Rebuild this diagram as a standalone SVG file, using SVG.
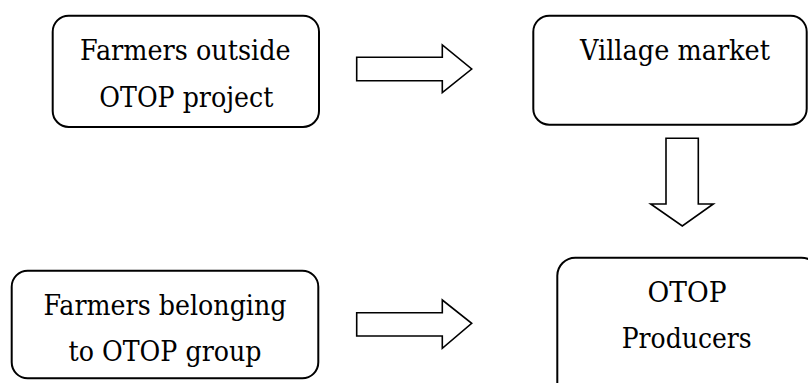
<svg xmlns="http://www.w3.org/2000/svg" width="808" height="383" viewBox="0 0 808 383">
<style>
.box{fill:#fff;stroke:#000;stroke-width:2}
.arr{fill:#fff;stroke:#000;stroke-width:1.6;stroke-linejoin:miter}
</style>
<rect width="808" height="383" fill="#fff"/>
<g font-family="DejaVu Serif, Liberation Serif, serif" font-size="27" text-anchor="middle" fill="#000">
<g id="node-farmers-outside">
<rect class="box" x="52.7" y="15.7" width="266.3" height="111.3" rx="16"/>
<text x="185.3" y="59.5" textLength="210.7" lengthAdjust="spacingAndGlyphs">Farmers outside</text>
<text x="186.3" y="106.7" textLength="174" lengthAdjust="spacingAndGlyphs">OTOP project</text>
</g>
<g id="node-village-market">
<rect class="box" x="533.3" y="15.7" width="273.4" height="109" rx="16"/>
<text x="675" y="59.5" textLength="190" lengthAdjust="spacingAndGlyphs">Village market</text>
</g>
<g id="node-otop-producers">
<rect class="box" x="557.3" y="257.7" width="262" height="150" rx="18"/>
<text x="687" y="301.7" textLength="79" lengthAdjust="spacingAndGlyphs">OTOP</text>
<text x="686.7" y="348" textLength="130" lengthAdjust="spacingAndGlyphs">Producers</text>
</g>
<g id="node-farmers-belonging">
<rect class="box" x="11.7" y="270.7" width="306.6" height="107.6" rx="16"/>
<text x="165" y="315" textLength="243" lengthAdjust="spacingAndGlyphs">Farmers belonging</text>
<text x="165" y="361" textLength="193" lengthAdjust="spacingAndGlyphs">to OTOP group</text>
</g>
</g>
<g id="connectors">
<path class="arr" d="M356.7,57.3 H442.3 V45 L471.7,69 L442.3,92.7 V80.7 H356.7 Z"/>
<path class="arr" d="M666,138.3 V204 H650.7 L682.3,226 L713.3,204 H698.3 V138.3 Z"/>
<path class="arr" d="M356.7,312.7 H442.3 V300 L471.7,323.3 L442.3,348.3 V336 H356.7 Z"/>
</g>
</svg>
